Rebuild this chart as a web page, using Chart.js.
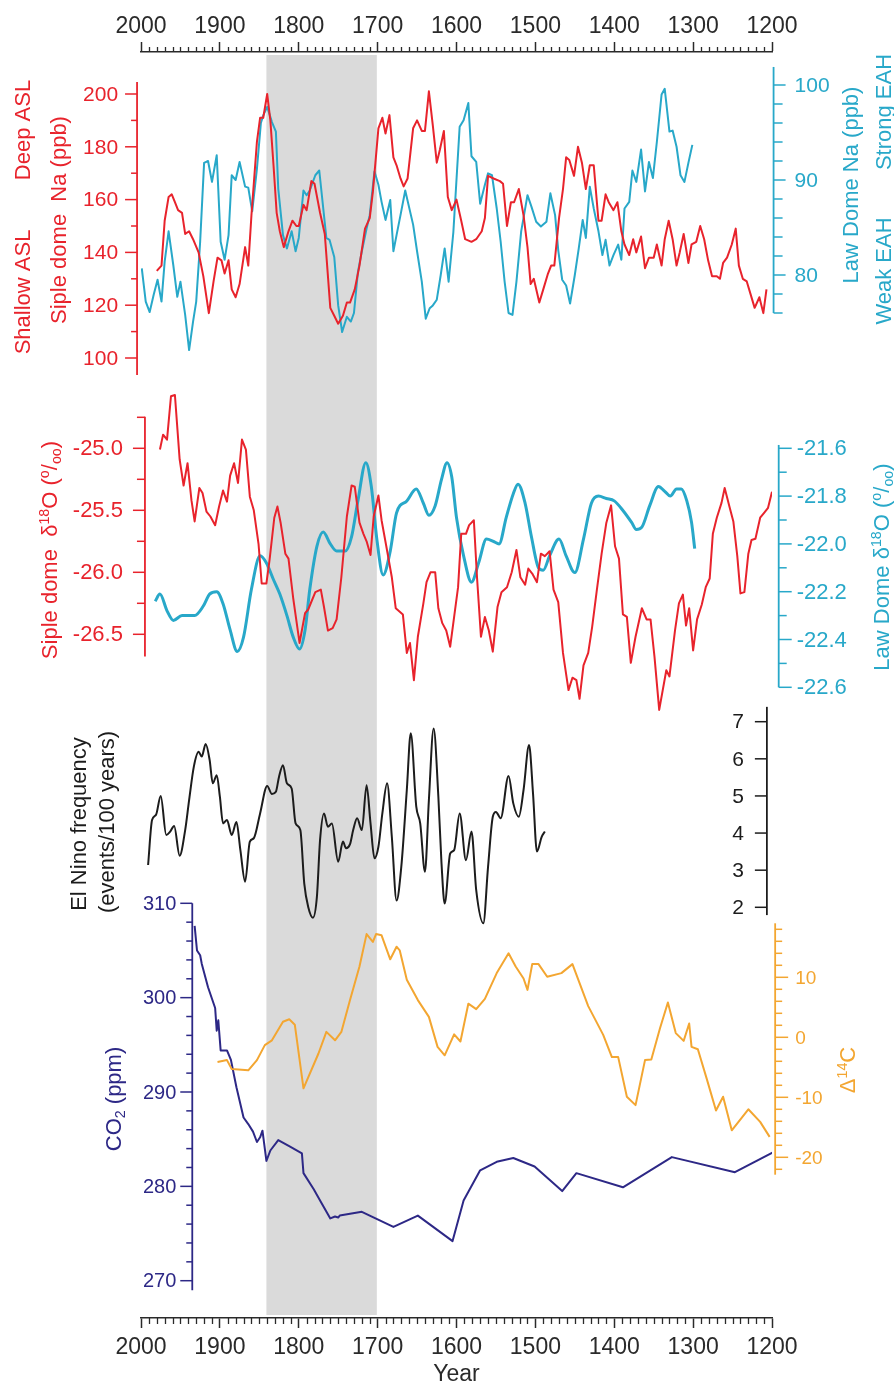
<!DOCTYPE html>
<html>
<head>
<meta charset="utf-8">
<script src="https://cdn.jsdelivr.net/npm/chart.js@4.4.1/dist/chart.umd.min.js"></script>
<style>
  html, body { margin: 0; padding: 0; background: #fff; }
  #wrap { position: relative; width: 894px; height: 1386px; }
</style>
</head>
<body>
<div id="wrap"><canvas id="chart" width="894" height="1386"></canvas></div>
<script>
// x axis
const yearTicks = [2000, 1900, 1800, 1700, 1600, 1500, 1400, 1300, 1200];
const shadeYears = [1841, 1701]; // grey band

// Siple dome Na (ppb)
const sipleNaYears = [1980,1974,1970,1965,1961,1957,1953,1948,1944,1939,1934,1927,1921,1914,1908,1903,1898,1894,1889,1885,
  1880,1875,1868,1864,1860,1853,1849,1845,1840,1836,1832,1828,1824,1819,1813,1808,1803,1800,1794,1790,
  1784,1780,1773,1767,1760,1755,1750,1744,1739,1735,1729,1723,1716,1710,1706,1699,1694,1690,1685,1680,
  1676,1671,1667,1662,1655,1650,1644,1640,1635,1630,1625,1621,1616,1611,1606,1600,1594,1589,1581,1575,
  1568,1564,1560,1553,1545,1541,1536,1531,1527,1521,1515,1510,1506,1502,1495,1490,1484,1480,1476,1470,
  1465,1461,1457,1451,1446,1441,1436,1431,1426,1420,1416,1411,1407,1401,1396,1391,1387,1381,1376,1372,
  1366,1361,1356,1350,1346,1340,1336,1331,1326,1321,1317,1312,1306,1302,1296,1291,1286,1281,1276,1270,
  1266,1262,1257,1251,1246,1242,1237,1232,1227,1222,1216,1211,1207];
const sipleNa = [133,135,152,161,162,159,156,155,147,148,145,140,131,117,129,138,137,132,137,126,
  123,128,142,135,154,182,191,191,200,190,173,155,148,142,148,152,150,150,158,156,
  167,166,155,147,119,116,113,116,121,121,126,135,149,153,163,187,191,185,192,176,
  173,168,165,168,187,190,186,186,201,188,174,179,186,161,156,160,152,145,144,145,
  148,153,169,168,167,166,150,159,159,164,154,142,128,130,121,126,132,135,135,153,
  164,176,175,169,180,174,164,173,173,152,152,162,159,156,159,148,143,139,145,140,
  146,134,138,138,143,135,145,152,145,135,140,147,136,143,144,150,145,137,131,131,
  130,136,138,143,149,135,130,129,124,119,123,117,126];

// Law Dome Na (ppb)
const lawNaYears = [1999,1994,1989,1984,1979,1974,1970,1965,1959,1954,1950,1944,1939,1934,1930,1925,1920,1915,1910,1904,
  1899,1894,1889,1885,1880,1875,1868,1864,1859,1853,1848,1845,1840,1834,1829,1826,1820,1815,1809,1804,
  1800,1794,1790,1786,1779,1774,1765,1761,1755,1750,1745,1739,1734,1730,1725,1720,1714,1710,1704,1699,
  1695,1690,1684,1680,1676,1671,1665,1655,1650,1644,1639,1634,1630,1625,1620,1615,1610,1604,1596,1591,
  1585,1581,1575,1570,1564,1560,1555,1549,1544,1539,1534,1529,1524,1518,1510,1505,1499,1493,1486,1481,
  1475,1471,1466,1461,1456,1450,1445,1440,1436,1431,1426,1420,1415,1411,1406,1401,1395,1391,1387,1381,
  1377,1372,1366,1361,1356,1351,1346,1340,1336,1330,1326,1321,1316,1311,1306,1301];
const lawNa = [80.7,77.2,76.1,77.9,79.5,77.2,81.4,84.6,81.0,77.7,79.3,75.8,72.1,75.1,77.2,83.5,91.8,92.0,89.8,92.6,
  83.5,81.6,84.2,90.5,90.0,91.9,89.3,89.2,86.7,91.2,96.0,96.8,97.7,96.1,95.1,89.1,84.2,82.8,84.6,82.5,
  83.9,88.9,88.4,88.9,90.5,91.0,83.9,83.7,81.9,76.8,74.0,75.6,75.1,76.0,80.3,82.5,84.9,86.3,90.9,89.5,
  87.7,85.8,87.9,82.5,84.2,86.3,88.9,85.3,82.5,79.3,75.4,76.5,76.8,77.4,80.0,82.8,79.3,84.5,95.6,96.3,
  98.1,92.5,91.9,87.5,89.5,90.7,90.5,87.0,83.5,79.3,76.0,75.8,79.3,84.6,88.4,87.2,85.6,85.1,85.6,88.6,
  86.3,82.6,79.5,78.9,77.0,80.0,82.8,85.8,83.9,89.3,87.0,84.6,82.1,83.7,81.0,82.1,83.2,81.6,87.0,87.7,
  91.0,89.8,93.2,88.8,91.9,90.2,94.0,99.0,99.6,95.1,95.2,93.5,90.5,89.8,91.8,93.7];

// Siple dome d18O (per mil)
const sipleO18Years = [1976,1972,1967,1962,1957,1951,1946,1941,1936,1932,1926,1922,1917,1912,1906,1901,1896,1891,1887,1882,
  1877,1872,1867,1862,1857,1851,1847,1841,1837,1831,1827,1823,1817,1813,1807,1799,1792,1788,1779,1772,
  1768,1763,1757,1752,1746,1739,1733,1729,1723,1718,1714,1709,1705,1699,1695,1689,1682,1677,1668,1663,
  1659,1654,1649,1642,1638,1633,1627,1623,1618,1613,1608,1603,1598,1594,1588,1584,1578,1574,1569,1564,
  1559,1554,1548,1543,1536,1530,1524,1519,1513,1509,1504,1498,1493,1488,1482,1477,1471,1465,1458,1453,
  1448,1444,1439,1433,1428,1422,1416,1410,1404,1399,1394,1389,1384,1379,1373,1365,1359,1354,1349,1343,
  1334,1330,1323,1318,1313,1309,1305,1300,1295,1289,1284,1279,1275,1270,1264,1260,1254,1249,1244,
  1240,1235,1230,1226,1221,1215,1210,1205,1200];
const sipleO18 = [-25.01,-24.89,-24.93,-24.58,-24.57,-25.09,-25.30,-25.12,-25.42,-25.59,-25.32,-25.36,-25.51,-25.55,-25.62,-25.47,-25.34,-25.43,-25.22,-25.12,
  -25.28,-24.93,-25.01,-25.39,-25.50,-25.77,-26.09,-26.09,-25.90,-25.56,-25.47,-25.60,-25.85,-25.89,-26.21,-26.57,-26.33,-26.30,-26.16,-26.14,
  -26.28,-26.47,-26.45,-26.38,-26.04,-25.55,-25.30,-25.31,-25.60,-25.69,-25.75,-25.86,-25.55,-25.38,-25.58,-25.79,-26.04,-26.29,-26.34,-26.65,
  -26.57,-26.87,-26.52,-26.25,-26.08,-26.00,-26.00,-26.29,-26.41,-26.47,-26.60,-26.36,-26.12,-25.69,-25.69,-25.62,-25.58,-26.04,-26.52,-26.36,
  -26.47,-26.64,-26.28,-26.16,-26.12,-26.00,-25.82,-26.04,-26.10,-25.97,-26.01,-26.08,-25.85,-25.87,-25.83,-26.14,-26.24,-26.65,-26.95,-26.85,
  -26.87,-27.02,-26.75,-26.65,-26.44,-26.14,-25.85,-25.60,-25.46,-25.79,-25.89,-26.34,-26.36,-26.73,-26.52,-26.29,-26.38,-26.38,-26.68,-27.11,
  -26.79,-26.84,-26.47,-26.25,-26.18,-26.43,-26.29,-26.63,-26.38,-26.26,-26.12,-26.05,-25.69,-25.56,-25.44,-25.32,-25.47,-25.59,-25.87,
  -26.17,-26.16,-25.85,-25.74,-25.73,-25.56,-25.52,-25.48,-25.35];

// Law Dome d18O (per mil)
const lawO18Years = [1982,1976,1967,1959,1948,1940,1932,1921,1913,1904,1896,1887,1878,1870,1860,1849,1841,1832,1824,1815,
  1807,1799,1792,1786,1777,1769,1760,1752,1741,1733,1725,1715,1708,1701,1693,1684,1676,1663,1651,1642,
  1635,1627,1619,1612,1606,1600,1591,1581,1572,1562,1553,1546,1537,1528,1522,1513,1505,1496,1490,1482,
  1470,1461,1450,1439,1429,1420,1410,1400,1389,1378,1372,1365,1355,1344,1336,1329,1321,1315,1308,1302,1298];
const lawO18 = [-22.24,-22.21,-22.28,-22.32,-22.30,-22.30,-22.30,-22.26,-22.21,-22.20,-22.25,-22.36,-22.45,-22.39,-22.19,-22.05,-22.08,-22.15,-22.21,-22.30,
  -22.39,-22.44,-22.36,-22.19,-22.01,-21.95,-22.00,-22.03,-22.03,-21.97,-21.82,-21.66,-21.76,-21.98,-22.13,-22.03,-21.87,-21.82,-21.77,-21.83,
  -21.88,-21.84,-21.73,-21.66,-21.72,-21.89,-22.05,-22.16,-22.08,-21.98,-21.99,-22.00,-21.89,-21.79,-21.75,-21.83,-21.97,-22.10,-22.11,-22.05,
  -21.98,-22.05,-22.12,-21.98,-21.83,-21.80,-21.81,-21.82,-21.86,-21.91,-21.94,-21.93,-21.84,-21.76,-21.78,-21.80,-21.77,-21.77,-21.82,-21.91,-22.02];

// El Nino frequency (events/100 years)
const ninoYears = [1991,1986,1981,1975,1968,1963,1958,1951,1944,1939,1933,1927,1923,1918,1913,1909,1904,1900,1896,1891,
  1885,1879,1874,1868,1862,1857,1849,1840,1834,1829,1825,1820,1815,1809,1804,1798,1793,1788,1782,1777,
  1773,1768,1763,1758,1750,1744,1740,1735,1731,1726,1720,1714,1709,1704,1699,1694,1688,1682,1676,1670,
  1663,1658,1651,1646,1640,1635,1629,1623,1619,1615,1608,1603,1596,1588,1581,1575,1566,1560,1554,1550,
  1544,1534,1528,1521,1515,1508,1503,1498,1492,1488];
const ninoFreq = [3.14,4.35,4.49,5.00,3.95,4.04,4.19,3.39,4.08,4.89,5.79,6.19,6.06,6.40,5.97,5.34,5.56,4.98,4.26,4.35,
  3.95,4.30,3.54,2.69,3.77,3.86,4.53,5.27,5.05,5.11,5.52,5.83,5.34,5.20,4.26,4.08,2.64,2.01,1.72,2.28,
  3.81,4.53,4.17,4.26,3.23,3.77,3.59,3.70,4.08,4.40,4.08,5.29,4.26,3.32,3.63,4.53,5.34,3.90,2.18,3.09,
  5.16,6.69,4.71,4.26,2.96,4.89,6.82,4.98,3.18,2.10,3.45,3.54,4.53,3.27,4.04,2.46,1.57,3.09,4.44,4.57,
  4.40,5.54,4.80,4.44,5.16,6.37,5.07,3.50,3.90,4.04];

// CO2 (ppm)
const co2Years = [1932,1929,1925,1923,1915,1906,1904,1902,1899,1891,1886,1879,1870,1864,1858,1853,1849,1846,1841,1836,
  1826,1811,1796,1794,1781,1771,1760,1754,1750,1748,1720,1680,1649,1605,1591,1570,1549,1528,1501,1466,
  1448,1389,1327,1247,1199];
const co2Ppm = [307.6,305.0,304.5,303.6,301.1,298.9,296.5,297.6,294.4,294.4,293.4,290.5,287.3,286.6,285.8,284.7,285.2,285.9,282.7,283.8,
  284.9,284.2,283.5,281.4,279.7,278.2,276.6,276.8,276.7,276.9,277.3,275.7,276.9,274.2,278.5,281.7,282.6,283.0,282.1,279.5,
  281.4,279.9,283.1,281.5,283.6];

// Delta 14C
const c14Years = [1903,1891,1885,1864,1853,1843,1834,1820,1812,1805,1794,1775,1765,1754,1746,1735,1723,1714,1706,1702,
  1695,1684,1676,1672,1663,1649,1635,1624,1615,1603,1595,1585,1575,1564,1549,1534,1525,1515,1510,1504,
  1496,1485,1467,1453,1433,1414,1403,1395,1384,1373,1361,1353,1342,1332,1322,1312,1305,1302,1294,1283,
  1271,1262,1251,1230,1215,1203];
const c14Delta = [-4.1,-3.8,-5.3,-5.5,-3.8,-1.3,-0.5,2.6,3.0,2.1,-8.5,-2.7,0.9,-0.5,0.9,6.2,11.8,17.2,15.9,17.2,
  17.0,13.0,15.1,14.5,9.6,6.2,3.4,-1.6,-3.0,0.5,-0.7,5.6,4.7,6.4,10.7,14.0,11.8,9.8,7.9,12.2,
  12.2,10.1,10.7,12.2,5.2,0.4,-3.3,-3.3,-9.9,-11.3,-3.8,-3.7,1.5,5.8,0.7,-0.6,2.3,-1.6,-2.0,-6.8,
  -12.2,-9.9,-15.5,-12.0,-14.1,-16.6];

// tick labels of the side axes
const sipleNaTicks = [100, 120, 140, 160, 180, 200];
const lawNaTicks = [80, 90, 100];
const sipleO18Ticks = [-25.0, -25.5, -26.0, -26.5];
const lawO18Ticks = [-21.6, -21.8, -22.0, -22.2, -22.4, -22.6];
const ninoTicks = [2, 3, 4, 5, 6, 7];
const co2Ticks = [270, 280, 290, 300, 310];
const c14Ticks = [-20, -10, 0, 10];

const RED = '#e8232c', CYAN = '#28a8c9', INDIGO = '#2d2886', ORANGE = '#f3a631', BLACK = '#1c1c1c', INK = '#2a2a2a';
const FAMILY = '"Liberation Sans", Arial, Helvetica, sans-serif';
const font = s => s + 'px ' + FAMILY;

// plot area is fixed by the padding and the two x axes
const PLOT_TOP = 52, PLOT_BOTTOM = 1318;
// place a hidden y scale so that v0 lands on pixel p0 and v1 on p1
function fitRange(v0, p0, v1, p1) {
  const k = (p0 - p1) / (v1 - v0);
  return { type: 'linear', display: false, min: v0 - (PLOT_BOTTOM - p0) / k, max: v0 + (p0 - PLOT_TOP) / k };
}

function series(years, vals) {
  return years.map((yr, i) => ({ x: yr, y: vals[i] }));
}

// hand drawn side axes, placed on the scales
const sideAxes = [
  { scale: 'yNa', color: RED, at: 2005, side: -1, from: 93.6, to: 204.5, ticks: sipleNaTicks, minor: 10, len: 12, minorLen: 6, gap: 19, size: 21, dec: 0 },
  { scale: 'yLawNa', color: CYAN, at: 1198, side: 1, from: 76, to: 101.9, ticks: lawNaTicks, minor: 2, len: 12, minorLen: 9, gap: 21, size: 21, dec: 0 },
  { scale: 'yO18', color: RED, at: 1995, side: -1, from: -26.68, to: -24.745, ticks: sipleO18Ticks, minor: 0.25, len: 12, minorLen: 8, gap: 22, size: 22, dec: 1 },
  { scale: 'yLawO18', color: CYAN, at: 1191.5, side: 1, from: -22.6, to: -21.586, ticks: lawO18Ticks, minor: 0.1, len: 13, minorLen: 8, gap: 18, size: 22, dec: 1 },
  { scale: 'yNino', color: BLACK, at: 1206.5, side: -1, from: 1.79, to: 7.4, ticks: ninoTicks, minor: 0, len: 12, minorLen: 0, gap: 23, size: 21, dec: 0 },
  { scale: 'yCO2', color: INDIGO, at: 1935, side: -1, from: 269, to: 310, ticks: co2Ticks, minor: 2, len: 12, minorLen: 6, gap: 16, size: 20, dec: 0 },
  { scale: 'yC14', color: ORANGE, at: 1196, side: 1, from: -22.9, to: 19, ticks: c14Ticks, minor: 2, len: 13, minorLen: 7, gap: 20, size: 19, dec: 0 }
];

// rotated axis titles; parts: [text, 'sup' | 'sub']
const titles = [
  { color: RED, x: 22, y: 130, parts: [['Deep ASL']] },
  { color: RED, x: 22, y: 292, parts: [['Shallow ASL']] },
  { color: RED, x: 58, y: 220, parts: [['Siple dome  Na (ppb)']] },
  { color: CYAN, x: 850, y: 185, parts: [['Law Dome Na (ppb)']] },
  { color: CYAN, x: 883, y: 112, parts: [['Strong EAH']] },
  { color: CYAN, x: 883, y: 271, parts: [['Weak EAH']] },
  { color: RED, x: 49, y: 550, parts: [['Siple dome  \u03b4'], ['18', 'sup'], ['O ('], ['o', 'sup'], ['/'], ['oo', 'sub'], [')']] },
  { color: CYAN, x: 881, y: 567, parts: [['Law Dome \u03b4'], ['18', 'sup'], ['O ('], ['o', 'sup'], ['/'], ['oo', 'sub'], [')']] },
  { color: BLACK, x: 78, y: 824, parts: [['El Nino frequency']] },
  { color: BLACK, x: 106, y: 822, parts: [['(events/100 years)']] },
  { color: INDIGO, x: 113, y: 1099, parts: [['CO'], ['2', 'sub'], [' (ppm)']] },
  { color: ORANGE, x: 847, y: 1070, parts: [['\u0394'], ['14', 'sup'], ['C']] }
];

const bandPlugin = {
  id: 'band',
  beforeDatasetsDraw(chart) {
    const { ctx, chartArea, scales } = chart;
    const a = scales.x.getPixelForValue(shadeYears[0]);
    const b = scales.x.getPixelForValue(shadeYears[1]);
    ctx.save();
    ctx.fillStyle = '#dadada';
    ctx.fillRect(Math.min(a, b), chartArea.top + 3, Math.abs(b - a), chartArea.bottom - chartArea.top - 6);
    ctx.restore();
  }
};

const axesPlugin = {
  id: 'sideAxes',
  afterDatasetsDraw(chart) {
    const { ctx, chartArea, scales } = chart;
    ctx.save();
    // minor year ticks on both x axes
    ctx.strokeStyle = INK;
    ctx.lineWidth = 1.3;
    for (let yr = 1200; yr <= 2000; yr += 10) {
      if (yr % 100 === 0) continue;
      const px = Math.round(scales.x.getPixelForValue(yr)) + 0.5;
      ctx.beginPath();
      ctx.moveTo(px, chartArea.bottom); ctx.lineTo(px, chartArea.bottom + 6);
      ctx.moveTo(px, chartArea.top); ctx.lineTo(px, chartArea.top - 5);
      ctx.stroke();
    }
    sideAxes.forEach(ax => {
      const ys = scales[ax.scale];
      const px = scales.x.getPixelForValue(ax.at);
      ctx.strokeStyle = ax.color;
      ctx.fillStyle = ax.color;
      ctx.lineWidth = 1.8;
      ctx.beginPath();
      ctx.moveTo(px, ys.getPixelForValue(ax.from));
      ctx.lineTo(px, ys.getPixelForValue(ax.to));
      ctx.stroke();
      ctx.lineWidth = 1.5;
      ctx.font = font(ax.size);
      ctx.textBaseline = 'middle';
      ctx.textAlign = ax.side < 0 ? 'right' : 'left';
      ax.ticks.forEach(v => {
        const py = ys.getPixelForValue(v);
        ctx.beginPath();
        ctx.moveTo(px, py); ctx.lineTo(px + ax.side * ax.len, py);
        ctx.stroke();
        ctx.fillText(v.toFixed(ax.dec), px + ax.side * ax.gap, py + 1);
      });
      if (ax.minor) {
        const i0 = Math.ceil(ax.from / ax.minor - 1e-6), i1 = Math.floor(ax.to / ax.minor + 1e-6);
        for (let i = i0; i <= i1; i++) {
          const v = i * ax.minor;
          if (ax.ticks.some(t => Math.abs(t - v) < ax.minor * 0.01)) continue;
          const py = ys.getPixelForValue(v);
          ctx.beginPath();
          ctx.moveTo(px, py); ctx.lineTo(px + ax.side * ax.minorLen, py);
          ctx.stroke();
        }
      }
    });
    ctx.restore();
  }
};

const titlePlugin = {
  id: 'titles',
  afterDraw(chart) {
    const ctx = chart.ctx;
    const size = 22;
    titles.forEach(t => {
      ctx.save();
      ctx.translate(t.x, t.y);
      ctx.rotate(-Math.PI / 2);
      ctx.fillStyle = t.color;
      ctx.textBaseline = 'alphabetic';
      ctx.textAlign = 'left';
      let total = 0;
      t.parts.forEach(p => {
        ctx.font = font(p[1] ? size * 0.65 : size);
        total += ctx.measureText(p[0]).width;
      });
      let cx = -total / 2;
      t.parts.forEach(p => {
        ctx.font = font(p[1] ? size * 0.65 : size);
        const dy = p[1] === 'sup' ? -0.38 * size : p[1] === 'sub' ? 0.18 * size : 0;
        ctx.fillText(p[0], cx, 0.36 * size + dy);
        cx += ctx.measureText(p[0]).width;
      });
      ctx.restore();
    });
  }
};

const yearAxis = (pos, height, pad) => ({
  type: 'linear',
  position: pos,
  min: 1200,
  max: 2000,
  reverse: true,
  afterBuildTicks: s => { s.ticks = yearTicks.map(v => ({ value: v })); },
  afterFit: s => { s.height = height; },
  ticks: { color: INK, font: { size: 23 }, padding: pad, maxRotation: 0, autoSkip: false, callback: v => String(v) },
  grid: { drawOnChartArea: false, tickLength: 10, tickWidth: 1.5, tickColor: INK },
  border: { display: true, color: INK, width: 1.5 }
});

const line = (data, axis, color, width, smooth) => ({
  data, yAxisID: axis, borderColor: color, borderWidth: width,
  pointRadius: 0, fill: false, tension: smooth ? 0.4 : 0,
  cubicInterpolationMode: smooth ? 'monotone' : 'default', borderJoinStyle: 'round'
});

Chart.defaults.font.family = FAMILY;

const xBottom = yearAxis('bottom', PLOT_TOP === 52 ? 1386 - PLOT_BOTTOM : 68, 6);
xBottom.title = { display: true, text: 'Year', color: INK, font: { size: 23, lineHeight: 1 }, padding: { top: 0, bottom: 0 } };

new Chart(document.getElementById('chart'), {
  type: 'line',
  data: {
    datasets: [
      line(series(sipleNaYears, sipleNa), 'yNa', RED, 2),
      line(series(lawNaYears, lawNa), 'yLawNa', CYAN, 2),
      line(series(sipleO18Years, sipleO18), 'yO18', RED, 2),
      line(series(lawO18Years, lawO18), 'yLawO18', CYAN, 3, true),
      line(series(ninoYears, ninoFreq), 'yNino', BLACK, 2, true),
      line(series(c14Years, c14Delta), 'yC14', ORANGE, 2),
      line(series(co2Years, co2Ppm), 'yCO2', INDIGO, 2)
    ]
  },
  options: {
    responsive: false,
    animation: false,
    layout: { padding: { left: 141, right: 122, top: 0, bottom: 0 } },
    plugins: { legend: { display: false }, tooltip: { enabled: false } },
    scales: {
      x: xBottom,
      xTop: yearAxis('top', PLOT_TOP, 2),
      yNa: fitRange(100, 358, 200, 94),
      yLawNa: fitRange(80, 275, 100, 85),
      yO18: fitRange(-25, 448.3, -26.5, 634.3),
      yLawO18: fitRange(-21.6, 448.3, -22.6, 687.3),
      yNino: fitRange(7, 721.7, 2, 907.3),
      yCO2: fitRange(310, 903.3, 270, 1280.7),
      yC14: fitRange(10, 977.3, -20, 1157.3)
    }
  },
  plugins: [bandPlugin, axesPlugin, titlePlugin]
});
</script>
</body>
</html>
